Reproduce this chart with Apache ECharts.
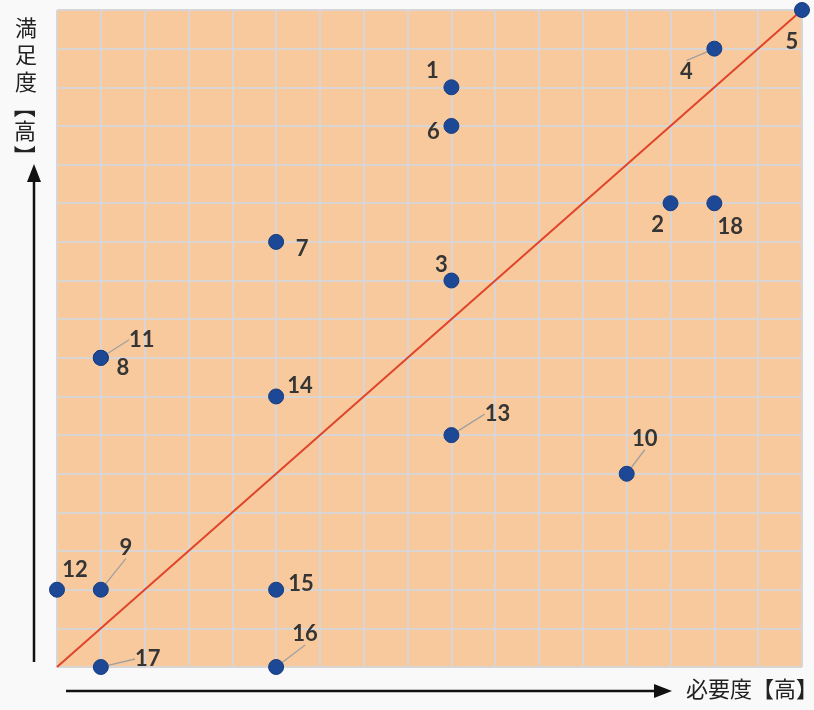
<!DOCTYPE html>
<html>
<head>
<meta charset="utf-8">
<script src="https://cdn.jsdelivr.net/npm/echarts@6/dist/echarts.min.js"></script>
<style>
html,body{margin:0;padding:0;background:#f9f9f9;}
#c{width:814px;height:710px;}
</style>
</head>
<body>
<div id="c"></div>
<script>
// Data
var itemNames = ['1','2','3','4','5','6','7','8','9','10','11','12','13','14','15','16','17','18'];
var necessity = [9,14,9,15,17,9,5,1,1,13,1,0,9,5,5,5,1,15];      // x: 必要度
var satisfaction = [15,12,10,16,17,14,11,8,2,5,8,2,6,7,2,0,0,12]; // y: 満足度
var diagonalX = [0,17];
var diagonalY = [0,17];
var axisMin = 0, axisMax = 17;

// label placement (dx, dy in px) and leader flag
var labelDx = [-19,-13,-10,-28,-10,-18,26,22,25,18,41,18,46,24,25,29,47,16];
var labelDy = [-16,22,-16,23,32,6,7,10,-42,-35,-18,-20,-21,-11,-6,-33,-8,24];
var leader  = [0,0,0,1,0,0,0,0,1,1,1,0,1,0,0,1,1,0];

var pts = itemNames.map(function(n,i){
  return {name:n, value:[necessity[i], satisfaction[i]],
    labelLine:{show:!!leader[i], lineStyle:{color:'#a0a0a0', width:1.3}}};
});

var chart = echarts.init(document.getElementById('c'));
var axisCommon = {
  type:'value', min:axisMin, max:axisMax, interval:1,
  axisLine:{show:false}, axisTick:{show:false}, axisLabel:{show:false},
  splitLine:{show:true, lineStyle:{color:'#d8d5d4', width:2}}
};
var cjk = 'Noto Sans CJK JP';
chart.setOption({
  backgroundColor:'#f9f9f9',
  animation:false,
  grid:{left:57, right:12, top:10, bottom:43, show:true, backgroundColor:'#f8c99c', borderWidth:0},
  xAxis:axisCommon,
  yAxis:axisCommon,
  graphic:[
    // y arrow
    {type:'line', shape:{x1:34,y1:662,x2:34,y2:178}, style:{stroke:'#111', lineWidth:2.5}},
    {type:'polygon', shape:{points:[[34,164],[27,182],[41,182]]}, style:{fill:'#111'}},
    // x arrow
    {type:'line', shape:{x1:66,y1:691,x2:656,y2:691}, style:{stroke:'#111', lineWidth:2.5}},
    {type:'polygon', shape:{points:[[672,691],[654,684],[654,698]]}, style:{fill:'#111'}},
    {type:'text', x:15, y:14, style:{text:'満\n足\n度', fontSize:22, lineHeight:27, fill:'#222', fontFamily:cjk}},
    {type:'text', x:25, y:107, rotation:-Math.PI/2, originX:0, originY:0,
      style:{text:'【', fontSize:22, fill:'#222', fontFamily:cjk, align:'center', verticalAlign:'middle'}},
    {type:'text', x:25, y:131, style:{text:'高', fontSize:22, fill:'#222', fontFamily:cjk, align:'center', verticalAlign:'middle'}},
    {type:'text', x:25, y:156, rotation:-Math.PI/2, originX:0, originY:0,
      style:{text:'】', fontSize:22, fill:'#222', fontFamily:cjk, align:'center', verticalAlign:'middle'}},
    {type:'text', x:686, y:678, style:{text:'必要度【高】', fontSize:22, fill:'#222', fontFamily:cjk}}
  ],
  series:[
    {type:'line', data:diagonalX.map(function(x,i){return [x,diagonalY[i]];}),
     symbol:'none', lineStyle:{color:'#e0452a', width:2}, z:2, silent:true},
    {type:'scatter', data:pts, symbolSize:15, clip:false, z:5,
     itemStyle:{color:'#1d4896', opacity:1, borderColor:'#173d80', borderWidth:1},
     label:{show:true, position:'inside', formatter:'{b}', color:'#353535',
       fontSize:22, fontWeight:'bold', fontFamily:'Lato'},
     labelLayout:function(p){ return {dx:labelDx[p.dataIndex], dy:labelDy[p.dataIndex]}; },
     labelLine:{show:false}
    }
  ]
});
</script>
</body>
</html>
